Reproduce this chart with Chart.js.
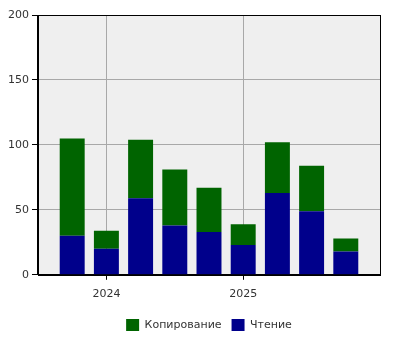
<!DOCTYPE html>
<html>
<head>
<meta charset="utf-8">
<script src="https://cdn.jsdelivr.net/npm/chart.js@4/dist/chart.umd.min.js"></script>
<style>
  html, body { margin: 0; padding: 0; background: #fff; }
  #wrap { width: 400px; height: 350px; }
</style>
</head>
<body>
<div id="wrap"><canvas id="chart"></canvas></div>
<script>
// quarters (start month) shown on the chart
const periods = ["2023-10", "2024-01", "2024-04", "2024-07", "2024-10", "2025-01", "2025-04", "2025-07", "2025-10"];
const readValues = [30, 20, 59, 38, 33, 23, 63, 49, 18];
const copyValues = [75, 14, 45, 43, 34, 16, 39, 35, 10];
const tickYears = [2024, 2025];
const yTicks = [0, 50, 100, 150, 200];

// "2024-04" -> 2024.25
function toYear(p) {
  const parts = p.split("-");
  return Number(parts[0]) + (Number(parts[1]) - 1) / 12;
}

const xs = periods.map(toYear);

Chart.defaults.font.family = "DejaVu Sans";
Chart.defaults.font.size = 11;
Chart.defaults.color = "#333";

// grey plot background + black frame
const plotFrame = {
  id: "plotFrame",
  beforeDraw(chart) {
    const { ctx, chartArea: a } = chart;
    ctx.save();
    ctx.fillStyle = "#efefef";
    ctx.fillRect(a.left, a.top, a.right - a.left, a.bottom - a.top);
    ctx.restore();
  },
  afterDraw(chart) {
    const { ctx, chartArea: a } = chart;
    ctx.save();
    ctx.strokeStyle = "#000";
    ctx.lineWidth = 1;
    ctx.strokeRect(Math.round(a.left) + 0.5, Math.round(a.top) + 0.5,
      Math.round(a.right - a.left), Math.round(a.bottom - a.top));
    ctx.restore();
  },
};

new Chart(document.getElementById("chart"), {
  type: "bar",
  data: {
    datasets: [
      {
        label: "Чтение",
        data: xs.map((x, i) => ({ x: x, y: readValues[i] })),
        backgroundColor: "#00008b",
      },
      {
        label: "Копирование",
        data: xs.map((x, i) => ({ x: x, y: copyValues[i] })),
        backgroundColor: "#006400",
      },
    ],
  },
  plugins: [plotFrame],
  options: {
    responsive: true,
    maintainAspectRatio: false,
    animation: false,
    layout: { padding: { top: 15, right: 20, left: 5, bottom: 9 } },
    datasets: {
      bar: { barPercentage: 0.73, categoryPercentage: 1 },
    },
    scales: {
      x: {
        type: "linear",
        stacked: true,
        offset: false,
        min: 2023.5,
        max: 2026,
        afterBuildTicks: (scale) => {
          scale.ticks = tickYears.map((v) => ({ value: v }));
        },
        ticks: {
          callback: (v) => String(v),
          padding: 8,
          maxRotation: 0,
        },
        grid: { offset: false, color: "#a8a8a8", tickColor: "#000", tickLength: 5 },
        border: { color: "#000" },
      },
      y: {
        stacked: true,
        min: 0,
        max: 200,
        afterBuildTicks: (scale) => {
          scale.ticks = yTicks.map((v) => ({ value: v }));
        },
        ticks: { padding: 3 },
        grid: { color: "#a8a8a8", tickColor: "#000", tickLength: 6 },
        border: { color: "#000" },
      },
    },
    plugins: {
      legend: {
        position: "bottom",
        fullSize: false,
        reverse: true,
        labels: { boxWidth: 13, boxHeight: 12, padding: 10 },
      },
      tooltip: { enabled: false },
    },
  },
});
</script>
</body>
</html>
